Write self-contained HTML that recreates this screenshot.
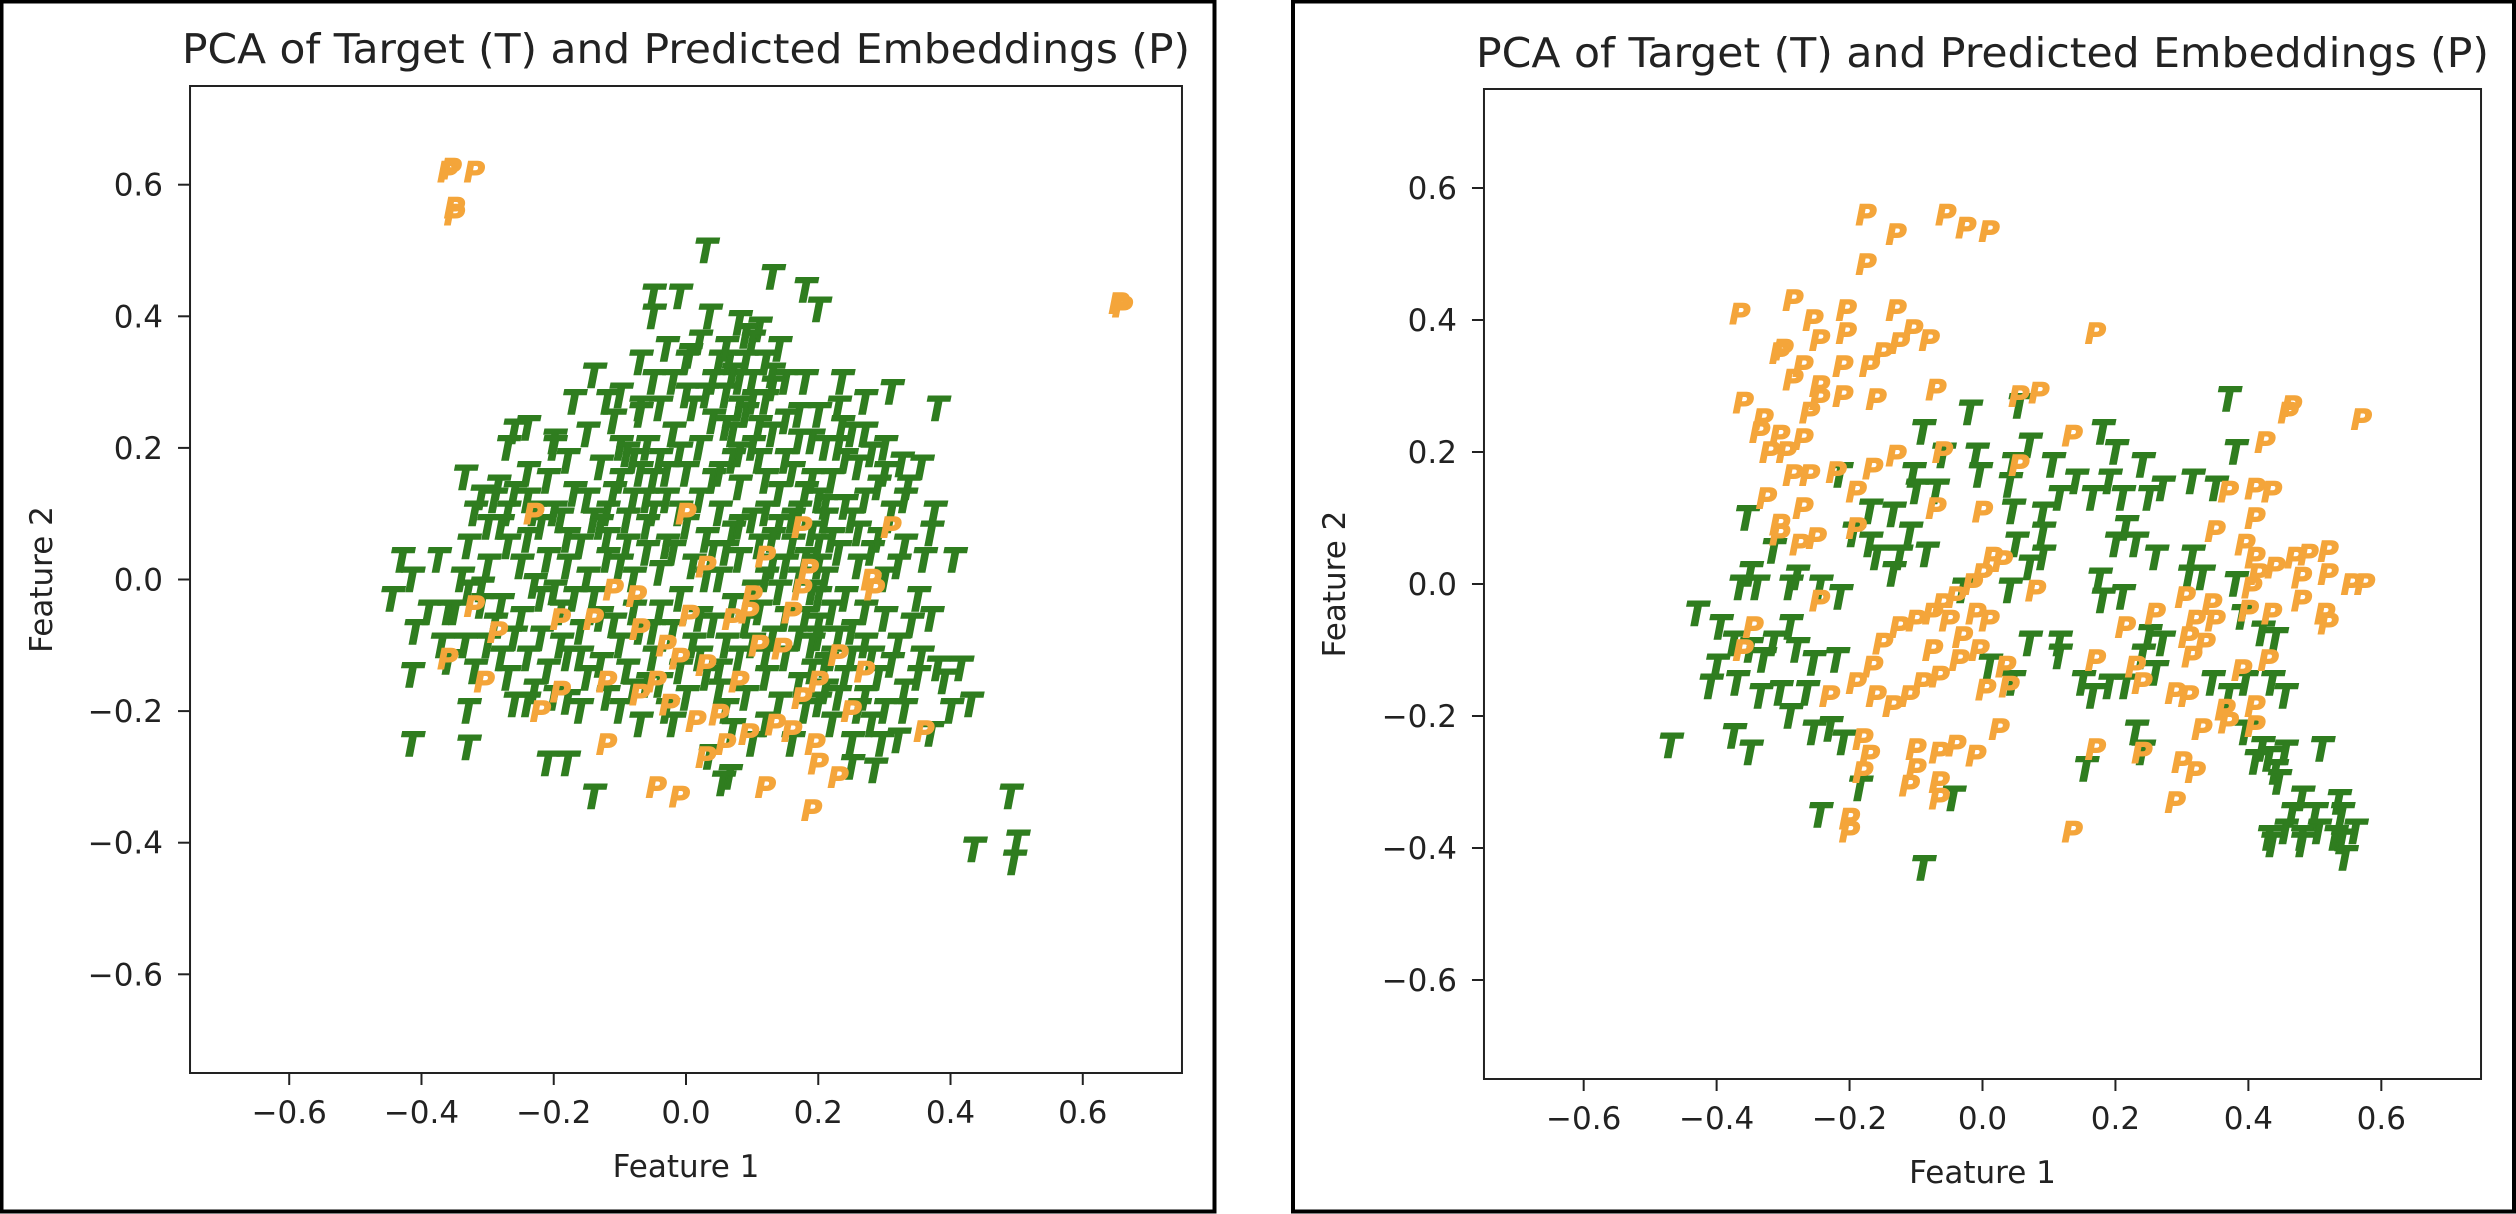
<!DOCTYPE html>
<html><head><meta charset="utf-8"><style>
html,body{margin:0;padding:0;background:#fff;}
svg{display:block;font-family:"DejaVu Sans","Liberation Sans",sans-serif;}
</style></head><body>
<svg id="chart" width="2516" height="1214" viewBox="0 0 2516 1214" xmlns="http://www.w3.org/2000/svg">
<rect x="0" y="0" width="2516" height="1214" fill="#fff"/>
<rect x="1.5" y="1.5" width="1213" height="1210" fill="none" stroke="#000" stroke-width="4"/>
<rect x="1293" y="1.5" width="1221" height="1210" fill="none" stroke="#000" stroke-width="4"/>
<g id="g-left"></g>
<g id="g-right"></g>
</svg>
<script>
const ticks = [-0.6,-0.4,-0.2,0.0,0.2,0.4,0.6];
const tickLabels = ["\u22120.6","\u22120.4","\u22120.2","0.0","0.2","0.4","0.6"];
const titleText = "PCA of Target (T) and Predicted Embeddings (P)";

const leftT = [[0.03,0.50],[0.13,0.46],[0.18,0.44],[0.2,0.41],[-0.05,0.43],[-0.01,0.43],[-0.05,0.40],[0.035,0.40],[0.08,0.39],[0.11,0.38],[0.10,0.36],[0.005,0.34],[-0.03,0.35],[-0.07,0.33],[0.065,0.33],[0.09,0.33],[0.08,0.30],[-0.14,0.31],[-0.12,0.27],[-0.07,0.26],[0.235,0.30],[0.27,0.27],[0.31,0.285],[0.38,0.26],[-0.26,0.225],[-0.24,0.23],[-0.2,0.21],[-0.27,0.2],[-0.335,0.155],[-0.31,0.125],[-0.285,0.14],[-0.24,0.16],[-0.43,0.03],[-0.375,0.03],[-0.445,-0.03],[-0.415,0.0],[-0.41,-0.08],[-0.36,-0.05],[-0.31,-0.015],[-0.415,-0.145],[-0.36,-0.125],[-0.335,-0.1],[-0.415,-0.25],[-0.33,-0.2],[-0.33,-0.255],[-0.26,-0.19],[-0.24,-0.19],[-0.2,-0.18],[-0.18,-0.186],[-0.21,-0.28],[-0.18,-0.28],[-0.14,-0.33],[0.035,-0.27],[0.065,-0.3],[0.055,-0.31],[0.25,-0.285],[0.285,-0.29],[0.295,-0.25],[0.32,-0.245],[0.37,-0.235],[0.4,-0.2],[0.43,-0.19],[0.39,-0.155],[0.415,-0.135],[0.38,-0.135],[0.355,-0.12],[0.37,-0.06],[0.37,0.07],[0.405,0.03],[0.375,0.1],[0.335,0.14],[0.355,0.17],[0.325,0.175],[0.3,0.2],[0.27,0.22],[0.235,0.23],[0.49,-0.33],[0.435,-0.41],[0.5,-0.4],[0.495,-0.43],
[-0.2,0.1],[-0.18,0.06],[-0.22,0.08],[-0.15,0.12],[-0.12,0.1],[-0.1,0.15],[-0.08,0.18],[-0.06,0.2],[-0.1,0.2],[-0.13,0.17],[-0.05,0.15],[-0.03,0.12],[0.0,0.16],[0.02,0.2],[0.04,0.24],[0.06,0.28],[0.08,0.26],[0.1,0.3],[0.12,0.27],[0.07,0.22],[0.1,0.2],[0.13,0.22],[0.15,0.18],[0.12,0.15],[0.08,0.14],[0.05,0.1],[0.03,0.06],[0.0,0.08],[-0.03,0.05],[-0.06,0.08],[-0.09,0.05],[-0.12,0.03],[-0.15,0.0],[-0.18,0.02],[-0.21,0.03],[-0.24,0.06],[-0.27,0.05],[-0.3,0.02],[-0.33,-0.02],[-0.35,-0.05],[-0.28,-0.04],[-0.25,-0.06],[-0.22,-0.03],[-0.19,-0.05],[-0.16,-0.08],[-0.13,-0.06],[-0.1,-0.1],[-0.07,-0.08],[-0.04,-0.05],[-0.01,-0.03],[0.02,-0.06],[0.05,0.0],[0.08,0.03],[0.11,0.05],[0.14,0.08],[0.17,0.1],[0.2,0.12],[0.22,0.15],[0.19,0.15],[0.21,0.09],[0.24,0.11],[0.26,0.07],[0.23,0.04],[0.2,0.02],[0.17,0.0],[0.14,-0.02],[0.11,-0.05],[0.18,-0.06],[0.2,-0.09],[0.22,-0.12],[0.19,-0.14],[0.21,-0.17],[0.24,-0.15],[0.27,-0.18],[0.3,-0.2],[0.33,-0.17],[0.28,-0.12],[0.25,-0.08],[0.3,-0.06],[0.32,-0.1],[0.3,0.0],[0.28,0.04],[0.33,0.05],[0.35,-0.03],[0.15,-0.12],[0.12,-0.15],[0.09,-0.18],[0.06,-0.2],[0.03,-0.15],[0.0,-0.18],[-0.03,-0.2],[-0.06,-0.16],[-0.09,-0.14],[-0.12,-0.18],[-0.15,-0.15],[-0.18,-0.12],[-0.21,-0.14],[-0.24,-0.12],[-0.27,-0.15],[-0.3,-0.1],[-0.32,-0.14],[-0.37,-0.1],[-0.39,-0.05],[-0.04,0.26],[-0.02,0.3],[0.0,0.33],[0.02,0.36],[0.05,0.33],[0.09,0.37],[0.12,0.33],[0.15,0.3],[0.17,0.25],[0.19,0.21],[0.23,0.2],[0.26,0.17],[0.29,0.14],[0.31,0.1],[-0.02,0.22],[-0.07,0.25],[-0.11,0.24],[-0.15,0.22],[-0.18,0.18],[-0.21,0.15],[-0.24,0.12],[-0.27,0.1],[-0.3,0.08],[-0.33,0.05],[-0.2,0.2],[-0.17,0.27],[0.03,0.0],[0.06,-0.1],[0.09,-0.07],[0.16,0.05],[0.12,0.1],[0.04,0.15],[-0.08,0.0],[-0.05,-0.12],[0.25,0.22],[0.18,0.3],[0.14,0.35],[0.07,0.18],[-0.01,0.1],[0.1,-0.1],[0.2,-0.03],[0.22,-0.22],[0.18,-0.2],[0.25,-0.25],[0.16,-0.25],[0.12,-0.22],
[-0.09,0.19],[-0.07,0.16],[-0.04,0.18],[-0.11,0.13],[-0.08,0.12],[-0.05,0.1],[0.02,0.12],[0.05,0.16],[0.08,0.19],[0.11,0.23],[0.09,0.25],[0.06,0.23],[0.03,0.28],[0.07,0.31],[0.1,0.27],[0.13,0.29],[0.11,0.18],[0.14,0.13],[0.16,0.16],[0.18,0.13],[0.21,0.11],[0.19,0.07],[0.22,0.06],[0.2,0.05],[0.18,0.03],[0.21,0.0],[0.19,-0.02],[0.22,-0.05],[0.2,-0.07],[0.23,-0.09],[0.19,-0.1],[0.21,-0.13],[0.17,-0.16],[0.2,-0.19],[0.23,-0.18],[0.26,-0.2],[0.27,-0.1],[0.24,-0.03],[0.26,0.02],[0.27,0.12],[0.3,0.16],[0.24,0.18],[0.21,0.2],[0.17,0.21],[0.15,0.24],[0.13,0.31],[0.06,0.35],[0.04,0.3],[0.01,0.26],[-0.01,0.19],[-0.03,0.16],[-0.06,0.12],[-0.09,0.09],[-0.12,0.06],[-0.14,0.09],[-0.17,0.13],[-0.19,0.09],[-0.23,0.1],[-0.26,0.13],[-0.28,0.08],[-0.25,0.02],[-0.23,-0.01],[-0.2,-0.02],[-0.17,-0.03],[-0.14,-0.03],[-0.11,-0.07],[-0.08,-0.05],[-0.05,-0.08],[-0.02,-0.08],[0.01,-0.1],[0.04,-0.07],[0.07,-0.04],[0.1,-0.02],[0.13,0.02],[0.15,-0.06],[0.13,-0.09],[0.08,-0.12],[0.05,-0.14],[0.02,-0.12],[-0.01,-0.14],[-0.04,-0.16],[-0.08,-0.17],[-0.1,-0.2],[-0.13,-0.13],[-0.16,-0.12],[-0.19,-0.1],[-0.22,-0.09],[-0.26,-0.09],[-0.29,-0.07],[-0.31,-0.04],[-0.34,0.0],[-0.32,0.1],[-0.29,0.12],[-0.16,0.05],[-0.13,0.08],[-0.02,0.04],[0.01,0.02],[0.04,0.04],[0.07,0.07],[0.1,0.09],[0.13,0.06],[0.16,0.09],[0.25,0.09],[0.29,0.06],[0.32,0.02],[0.34,-0.07],[0.31,-0.13],[0.35,-0.15],[0.33,-0.2],[0.28,-0.22],[0.14,-0.19],[0.1,-0.25],[0.07,-0.23],[-0.02,-0.22],[-0.07,-0.22],[-0.16,-0.2],[-0.23,-0.17],[-0.28,-0.12],[0.0,0.28],[-0.05,0.3],[-0.1,0.28],[0.2,0.25],[0.23,0.26],[0.28,0.19],[0.33,0.12],[0.36,0.03],[0.08,0.08],[0.06,0.04],[-0.04,0.01],[-0.06,0.04],[-0.1,0.02],[0.12,0.0],[0.15,0.02],[0.17,-0.09],[0.12,-0.12],[0.05,-0.17],[0.27,-0.05],[0.29,-0.15],[0.25,-0.12]];

const leftP = [[-0.36,0.62],[-0.355,0.625],[-0.32,0.62],[-0.35,0.555],[-0.35,0.565],[0.66,0.415],[0.655,0.42],[-0.23,0.1],[0.0,0.1],[0.31,0.08],[0.03,0.02],[0.12,0.035],[-0.11,-0.015],[-0.075,-0.025],[-0.32,-0.04],[-0.285,-0.08],[-0.36,-0.12],[-0.305,-0.155],[-0.19,-0.06],[-0.14,-0.06],[-0.07,-0.075],[-0.03,-0.1],[-0.01,-0.12],[0.03,-0.13],[0.07,-0.06],[0.095,-0.05],[0.11,-0.1],[0.145,-0.105],[0.175,-0.015],[0.16,-0.05],[0.23,-0.115],[0.28,0.0],[0.285,-0.015],[0.27,-0.14],[0.25,-0.2],[0.36,-0.23],[0.2,-0.155],[0.175,-0.18],[0.16,-0.23],[0.195,-0.25],[0.2,-0.28],[0.23,-0.3],[0.19,-0.35],[0.12,-0.315],[-0.01,-0.33],[-0.045,-0.315],[-0.12,-0.25],[0.03,-0.27],[0.06,-0.25],[0.095,-0.235],[0.05,-0.205],[0.015,-0.215],[-0.025,-0.19],[-0.045,-0.155],[-0.07,-0.175],[-0.12,-0.155],[-0.19,-0.17],[-0.22,-0.2],[0.135,-0.22],[0.08,-0.155],[0.005,-0.055],[0.1,-0.025],[0.185,0.015],[0.175,0.08]];

const rightT = [[-0.47,-0.245],[-0.375,-0.23],[-0.35,-0.255],[-0.43,-0.045],[-0.355,0.1],[-0.315,0.05],[-0.35,0.015],[-0.365,-0.005],[-0.395,-0.065],[-0.4,-0.125],[-0.41,-0.155],[-0.37,-0.15],[-0.375,-0.09],[-0.35,-0.1],[-0.33,-0.115],[-0.315,-0.09],[-0.29,-0.065],[-0.28,-0.1],[-0.255,-0.12],[-0.22,-0.115],[-0.335,-0.17],[-0.305,-0.165],[-0.29,-0.2],[-0.265,-0.165],[-0.34,-0.005],[-0.29,-0.005],[-0.28,0.01],[-0.245,-0.005],[-0.215,-0.02],[-0.255,-0.225],[-0.23,-0.22],[-0.21,-0.24],[-0.245,-0.35],[-0.185,-0.31],[-0.09,-0.43],[-0.045,-0.325],[-0.17,0.06],[-0.16,0.04],[-0.135,0.015],[-0.125,0.04],[-0.085,0.045],[-0.17,0.11],[-0.135,0.105],[-0.11,0.075],[-0.195,0.075],[-0.215,0.165],[-0.105,0.165],[-0.1,0.14],[-0.07,0.14],[-0.09,0.23],[-0.06,0.195],[-0.02,0.26],[-0.01,0.195],[-0.005,0.165],[0.055,0.27],[0.07,0.21],[0.045,0.18],[0.04,0.15],[0.045,0.11],[0.09,0.105],[0.105,0.18],[0.115,0.13],[0.14,0.155],[0.165,0.13],[0.18,0.23],[0.2,0.2],[0.24,0.18],[0.19,0.155],[0.21,0.13],[0.25,0.13],[0.27,0.145],[0.315,0.155],[0.35,0.145],[0.38,0.2],[0.37,0.28],[0.2,0.06],[0.23,0.06],[0.26,0.04],[0.215,0.085],[0.31,0.01],[0.33,0.01],[0.315,0.04],[0.38,0.0],[-0.03,-0.01],[0.04,-0.01],[0.07,0.025],[0.09,0.04],[0.05,0.06],[0.09,0.075],[0.175,0.005],[0.18,-0.025],[0.21,-0.02],[0.07,-0.09],[0.115,-0.09],[0.115,-0.11],[0.01,-0.125],[0.045,-0.15],[0.15,-0.15],[0.165,-0.17],[0.19,-0.155],[0.215,-0.155],[0.24,-0.11],[0.25,-0.08],[0.27,-0.09],[0.26,-0.135],[0.23,-0.225],[0.24,-0.255],[0.155,-0.28],[0.345,-0.15],[0.37,-0.17],[0.395,-0.15],[0.435,-0.15],[0.455,-0.17],[0.42,-0.075],[0.44,-0.085],[0.39,-0.05],[0.395,-0.225],[0.42,-0.25],[0.43,-0.265],[0.455,-0.255],[0.51,-0.25],[0.44,-0.285],[0.41,-0.27],[0.445,-0.3],[0.48,-0.325],[0.465,-0.35],[0.5,-0.35],[0.535,-0.33],[0.54,-0.35],[0.56,-0.375],[0.53,-0.385],[0.505,-0.375],[0.48,-0.385],[0.455,-0.375],[0.43,-0.385],[0.435,-0.395],[0.48,-0.395],[0.545,-0.415],[0.54,-0.39]];

const rightP = [[-0.175,0.56],[-0.13,0.53],[-0.175,0.485],[-0.055,0.56],[-0.025,0.54],[0.01,0.535],[-0.365,0.41],[-0.285,0.43],[-0.255,0.4],[-0.205,0.415],[-0.13,0.415],[-0.105,0.385],[-0.08,0.37],[-0.125,0.365],[-0.15,0.35],[-0.17,0.33],[-0.205,0.38],[-0.245,0.37],[-0.3,0.355],[-0.305,0.35],[-0.27,0.33],[-0.285,0.31],[-0.245,0.3],[-0.21,0.33],[-0.245,0.28],[-0.21,0.285],[-0.16,0.28],[-0.36,0.275],[-0.33,0.25],[-0.335,0.23],[-0.305,0.225],[-0.32,0.2],[-0.295,0.2],[-0.27,0.22],[-0.26,0.26],[-0.285,0.165],[-0.26,0.165],[-0.22,0.17],[-0.165,0.175],[-0.19,0.14],[-0.13,0.195],[-0.07,0.295],[-0.325,0.13],[-0.305,0.09],[-0.27,0.115],[-0.305,0.075],[-0.275,0.06],[-0.25,0.07],[-0.19,0.085],[-0.07,0.115],[-0.06,0.2],[0.0,0.11],[0.055,0.18],[0.085,0.29],[0.135,0.225],[0.17,0.38],[0.055,0.285],[0.425,0.215],[0.46,0.26],[0.465,0.27],[0.57,0.25],[0.41,0.145],[0.435,0.14],[0.37,0.14],[0.41,0.1],[0.35,0.08],[0.395,0.06],[0.41,0.04],[0.415,0.015],[0.44,0.025],[0.47,0.04],[0.49,0.045],[0.52,0.05],[0.52,0.015],[0.48,0.01],[0.555,0.0],[0.575,0.0],[0.405,-0.005],[0.4,-0.04],[0.435,-0.045],[0.48,-0.025],[0.515,-0.045],[0.52,-0.06],[0.345,-0.03],[0.32,-0.055],[0.31,-0.08],[0.335,-0.09],[0.315,-0.11],[0.35,-0.055],[0.305,-0.02],[0.26,-0.045],[0.215,-0.065],[0.23,-0.125],[0.17,-0.115],[0.24,-0.15],[0.29,-0.165],[0.31,-0.17],[0.39,-0.13],[0.43,-0.115],[0.41,-0.185],[0.37,-0.21],[0.41,-0.215],[0.33,-0.22],[0.365,-0.19],[0.3,-0.27],[0.32,-0.285],[0.29,-0.33],[0.135,-0.375],[0.17,-0.25],[0.24,-0.255],[0.025,-0.22],[-0.01,-0.26],[-0.04,-0.245],[-0.065,-0.255],[-0.1,-0.25],[-0.1,-0.28],[-0.065,-0.3],[-0.065,-0.325],[-0.11,-0.305],[-0.18,-0.235],[-0.17,-0.26],[-0.18,-0.285],[-0.2,-0.355],[-0.2,-0.375],[-0.23,-0.17],[-0.19,-0.15],[-0.165,-0.125],[-0.15,-0.09],[-0.125,-0.065],[-0.1,-0.055],[-0.075,-0.045],[-0.06,-0.03],[-0.04,-0.02],[-0.015,0.0],[0.0,0.015],[0.015,0.04],[0.03,0.035],[-0.05,-0.055],[-0.03,-0.08],[-0.005,-0.1],[0.01,-0.055],[-0.01,-0.045],[-0.035,-0.115],[-0.065,-0.14],[-0.09,-0.15],[-0.11,-0.17],[-0.135,-0.185],[-0.16,-0.17],[-0.075,-0.1],[0.035,-0.125],[0.04,-0.155],[0.005,-0.16],[0.08,-0.01],[-0.245,-0.025],[-0.345,-0.065],[-0.36,-0.1]];

const NS = "http://www.w3.org/2000/svg";
function mk(tag, attrs, parent){
  const e = document.createElementNS(NS, tag);
  for (const k in attrs) e.setAttribute(k, attrs[k]);
  parent.appendChild(e);
  return e;
}
function drawPanel(g, box, tPts, pPts, side){
  const x = v => box.cx + v * box.sx;
  const y = v => box.cy - v * box.sy;
  const L = box.cx - 0.75*box.sx, R = box.cx + 0.75*box.sx;
  const T = box.cy - 0.75*box.sy, B = box.cy + 0.75*box.sy;
  ticks.forEach((v,i)=>{
    const tx = mk('line',{x1:x(v),x2:x(v),y1:B,y2:B+12,stroke:'#222','stroke-width':2},g);
    
    
    const lx = mk('text',{x:x(v),y:B+50,'text-anchor':'middle','font-size':31,fill:'#222'},g);
    lx.textContent = tickLabels[i];
    
    
    const ty = mk('line',{x1:L-12,x2:L,y1:y(v),y2:y(v),stroke:'#222','stroke-width':2},g);
    
    
    const ly = mk('text',{x:L-27,y:y(v)+11,'text-anchor':'end','font-size':31,fill:'#222'},g);
    ly.textContent = tickLabels[i];
    
    
  });
  const pg = mk('g',{},g);
  
  
  tPts.forEach(p=>{
    const t = mk('text',{x:x(p[0]),y:y(p[1])+12,'text-anchor':'middle','font-size':33,'font-weight':'bold','font-style':'italic',fill:'#2f7d1f',stroke:'#2f7d1f','stroke-width':1.5},pg);
    t.textContent = 'T';
    
    
  });
  pPts.forEach(p=>{
    const t = mk('text',{x:x(p[0]),y:y(p[1])+10,'text-anchor':'middle','font-size':28,'font-weight':'bold','font-style':'italic',fill:'#f4a53a',stroke:'#f4a53a','stroke-width':1.5},pg);
    t.textContent = 'P';
    
    
  });
  const frame = mk('rect',{x:L,y:T,width:R-L,height:B-T,fill:'none',stroke:'#222','stroke-width':2},g);
  
  
  const title = mk('text',{x:box.cx,y:box.titleY,'text-anchor':'middle','font-size':41,fill:'#222',textLength:box.titleW,lengthAdjust:'spacingAndGlyphs'},g);
  title.textContent = titleText;
  
  
  const xl = mk('text',{x:box.cx,y:B+104,'text-anchor':'middle','font-size':31,fill:'#222'},g);
  xl.textContent = 'Feature 1';
  
  
  const yl = mk('text',{x:0,y:0,'text-anchor':'middle','font-size':31,fill:'#222',transform:'translate('+box.ylabX+','+box.cy+') rotate(-90)'},g);
  yl.textContent = 'Feature 2';
  
  
}
drawPanel(document.getElementById('g-left'), {cx:686, cy:579.5, sx:661.3, sy:658, titleY:63, titleW:1008, ylabX:52}, leftT, leftP, 'left');
drawPanel(document.getElementById('g-right'), {cx:1982.5, cy:584, sx:664.7, sy:660, titleY:67, titleW:1013, ylabX:1345}, rightT, rightP, 'right');
</script>
</body></html>
